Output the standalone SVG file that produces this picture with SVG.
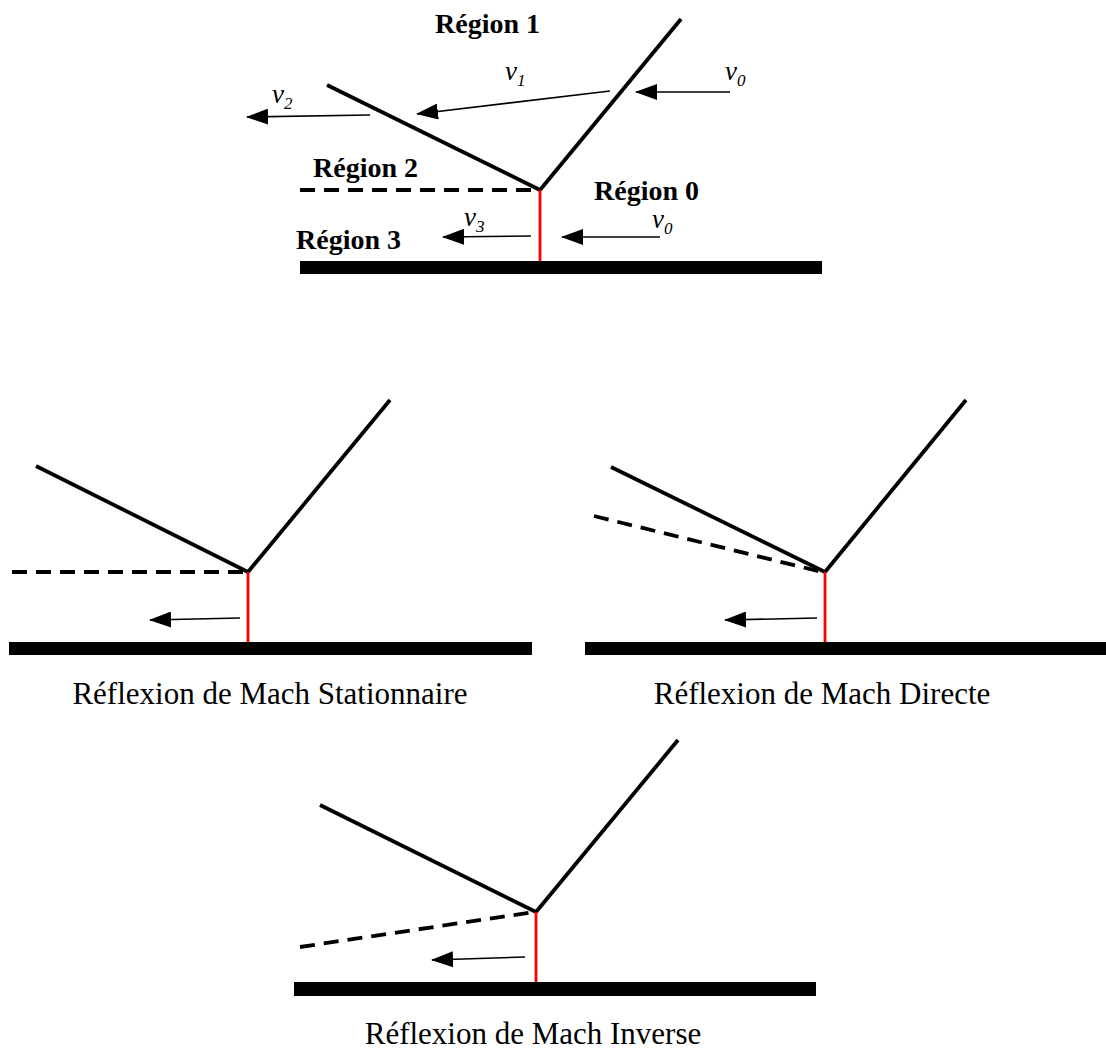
<svg xmlns="http://www.w3.org/2000/svg" width="1106" height="1054" viewBox="0 0 1106 1054">
<defs>
<marker id="ah" markerWidth="22" markerHeight="16" refX="21" refY="8" orient="auto" markerUnits="userSpaceOnUse">
<path d="M0,0 L22,8 L0,16 Z" fill="#000"/>
</marker>
<style>
.shock{stroke:#000;stroke-width:3.8;fill:none}
.slip{stroke:#000;stroke-width:3.8;stroke-dasharray:15,9;fill:none}
.stem{stroke:#ff0000;stroke-width:2.8}
.arr{stroke:#000;stroke-width:1.6;marker-end:url(#ah)}
.wall{fill:#000}
.reg{font-family:"Liberation Serif",serif;font-weight:bold;font-size:28px;fill:#000}
.v{font-family:"Liberation Serif",serif;font-style:italic;font-size:27px;fill:#000}
.sub{font-size:17px}
.cap{font-family:"Liberation Serif",serif;font-size:31px;fill:#000;text-anchor:middle}
</style>
</defs>
<rect width="1106" height="1054" fill="#fff"/>

<g id="top">
<line class="shock" x1="681" y1="19" x2="540" y2="190"/>
<line class="shock" x1="327" y1="85" x2="540" y2="190"/>
<line class="slip" x1="300" y1="190" x2="540" y2="190"/>
<line class="stem" x1="540" y1="190" x2="540" y2="262"/>
<rect class="wall" x="300" y="261" width="522" height="13"/>
<text class="reg" x="435" y="33">Région 1</text>
<text class="reg" x="313" y="177">Région 2</text>
<text class="reg" x="594" y="200">Région 0</text>
<text class="reg" x="296" y="249">Région 3</text>
<text class="v" x="505" y="80">v<tspan class="sub" dy="6">1</tspan></text>
<text class="v" x="725" y="80">v<tspan class="sub" dy="6">0</tspan></text>
<text class="v" x="272" y="103">v<tspan class="sub" dy="6">2</tspan></text>
<text class="v" x="464" y="226">v<tspan class="sub" dy="6">3</tspan></text>
<text class="v" x="652" y="228">v<tspan class="sub" dy="6">0</tspan></text>
</g>

<g id="stationnaire">
<line class="shock" x1="390" y1="400" x2="248" y2="572"/>
<line class="shock" x1="36" y1="466" x2="248" y2="572"/>
<line class="slip" x1="12" y1="572" x2="248" y2="572"/>
<line class="stem" x1="248" y1="572" x2="248" y2="642"/>
<rect class="wall" x="9" y="642" width="523" height="13"/>
<text class="cap" x="270" y="704">Réflexion de Mach Stationnaire</text>
</g>

<g id="directe">
<line class="shock" x1="966" y1="400" x2="825" y2="572"/>
<line class="shock" x1="611" y1="467" x2="825" y2="572"/>
<line class="slip" x1="594" y1="516" x2="822" y2="572"/>
<line class="stem" x1="825" y1="572" x2="825" y2="642"/>
<rect class="wall" x="585" y="642" width="521" height="13"/>
<text class="cap" x="822" y="704">Réflexion de Mach Directe</text>
</g>

<g id="inverse">
<line class="shock" x1="678" y1="740" x2="536" y2="912"/>
<line class="shock" x1="320" y1="805" x2="536" y2="912"/>
<line class="slip" x1="300" y1="947" x2="534" y2="912"/>
<line class="stem" x1="536" y1="912" x2="536" y2="982"/>
<rect class="wall" x="294" y="982" width="522" height="14"/>
<text class="cap" x="533" y="1044">Réflexion de Mach Inverse</text>
</g>

<g id="connectors">
<line class="arr" x1="730" y1="92" x2="636" y2="92"/>
<line class="arr" x1="610" y1="91" x2="417" y2="114"/>
<line class="arr" x1="370" y1="115" x2="247" y2="117"/>
<line class="arr" x1="531" y1="236" x2="443" y2="237"/>
<line class="arr" x1="660" y1="237" x2="562" y2="237"/>
<line class="arr" x1="240" y1="618" x2="150" y2="620"/>
<line class="arr" x1="817" y1="618" x2="725" y2="620"/>
<line class="arr" x1="525" y1="957" x2="432" y2="960"/>
</g>
</svg>
